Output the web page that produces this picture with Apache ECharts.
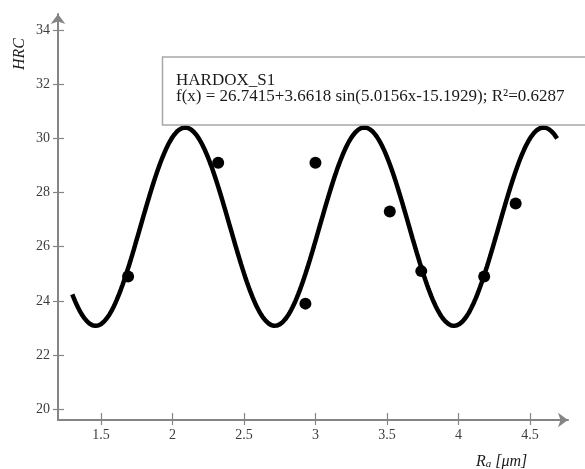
<!DOCTYPE html>
<html>
<head>
<meta charset="utf-8">
<script src="https://cdn.jsdelivr.net/npm/echarts@6/dist/echarts.min.js"></script>
<style>
  html, body { margin: 0; padding: 0; background: #fff; }
  #chart { width: 585px; height: 469px; }
</style>
</head>
<body>
<div id="chart"></div>
<script>
// Measured hardness against roughness
const roughness = [1.69, 2.32, 2.93, 3.00, 3.52, 3.74, 4.18, 4.40];
const hardness  = [24.9, 29.1, 23.9, 29.1, 27.3, 25.1, 24.9, 27.6];

// Sine fit f(x) = a + b*sin(c*x + d) as given in the legend
const fitCoeffs = [26.7415, 3.6618, 5.0156, -15.1929];
const fitRange = [1.30, 4.69];
const fitLabel = 'f(x) = 26.7415+3.6618 sin(5.0156x-15.1929); R²=0.6287';
const seriesName = 'HARDOX_S1';

// Tick values
const xTicks = [1.5, 2, 2.5, 3, 3.5, 4, 4.5];
const yTicks = [20, 22, 24, 26, 28, 30, 32, 34];

const fitCurve = [];
for (let i = 0; ; i++) {
  const x = +(fitRange[0] + i * 0.01).toFixed(2);
  if (x > fitRange[1] + 1e-9) break;
  const [a, b, c, d] = fitCoeffs;
  fitCurve.push([x, a + b * Math.sin(c * x + d)]);
}

const serif = '"Liberation Serif", "DejaVu Serif", serif';
const axisGray = '#858585';
const X_MIN = 1.2, X_MAX = 4.766, Y_MIN = 19.605, Y_MAX = 34.59;

function xAxisDef(inside, main) {
  return {
    type: 'value', min: X_MIN, max: X_MAX, position: 'bottom',
    splitLine: { show: false },
    axisLine: main ? {
      show: true, onZero: false,
      lineStyle: { color: axisGray, width: 2 },
      symbol: ['none', 'arrow'], symbolSize: [11, 10]
    } : { show: false },
    axisTick: { show: true, inside: inside, length: inside ? 7 : 5,
      customValues: xTicks, lineStyle: { color: axisGray, width: 1.2 } },
    axisLabel: main ? {
      show: true, customValues: xTicks, margin: 8,
      fontFamily: serif, fontSize: 14, color: '#3c3c3c',
      formatter: v => String(v)
    } : { show: false }
  };
}
function yAxisDef(inside, main) {
  return {
    type: 'value', min: Y_MIN, max: Y_MAX, position: 'left',
    splitLine: { show: false },
    axisLine: main ? {
      show: true, onZero: false,
      lineStyle: { color: axisGray, width: 2 },
      symbol: ['none', 'arrow'], symbolSize: [11, 10]
    } : { show: false },
    axisTick: { show: true, inside: inside, length: inside ? 6 : 5,
      customValues: yTicks, lineStyle: { color: axisGray, width: 1.2 } },
    axisLabel: main ? {
      show: true, customValues: yTicks, margin: 8,
      fontFamily: serif, fontSize: 14, color: '#3c3c3c',
      formatter: v => String(v)
    } : { show: false }
  };
}

const chart = echarts.init(document.getElementById('chart'), null, { renderer: 'canvas' });
chart.setOption({
  animation: false,
  backgroundColor: '#fff',
  grid: { left: 58, right: 17, top: 14, bottom: 49, containLabel: false },
  xAxis: [xAxisDef(false, true), xAxisDef(true, false)],
  yAxis: [yAxisDef(false, true), yAxisDef(true, false)],
  series: [
    {
      name: seriesName + ' fit', type: 'line', data: fitCurve,
      showSymbol: false, smooth: false, z: 2,
      lineStyle: { color: '#000', width: 4.5 }
    },
    {
      name: seriesName, type: 'scatter',
      data: roughness.map((x, i) => [x, hardness[i]]),
      symbol: 'circle', symbolSize: 12, z: 3,
      itemStyle: { color: '#000', opacity: 1 }
    }
  ],
  graphic: [
    {
      type: 'rect', z: 100,
      shape: { x: 162.5, y: 57, width: 450, height: 68 },
      style: { fill: '#fff', stroke: '#a8a8a8', lineWidth: 1.5 }
    },
    {
      type: 'text', z: 101, left: 176, top: 72,
      style: { text: seriesName, font: '17px ' + serif, fill: '#1a1a1a' }
    },
    {
      type: 'text', z: 101, left: 176, top: 88,
      style: { text: fitLabel, font: '17px ' + serif, fill: '#1a1a1a' }
    },
    {
      type: 'text', z: 101, left: 12, top: 38, rotation: Math.PI / 2,
      style: { text: 'HRC', font: 'italic 16px ' + serif, fill: '#1a1a1a' }
    },
    {
      type: 'text', z: 101, left: 476, top: 454,
      style: {
        text: '{r|R}{s|a}{r| [μm]}',
        rich: {
          r: { font: 'italic 16px ' + serif, fill: '#1a1a1a', verticalAlign: 'bottom', lineHeight: 18 },
          s: { font: 'italic 11px ' + serif, fill: '#1a1a1a', verticalAlign: 'bottom', lineHeight: 14 }
        }
      }
    }
  ]
});
</script>
</body>
</html>
